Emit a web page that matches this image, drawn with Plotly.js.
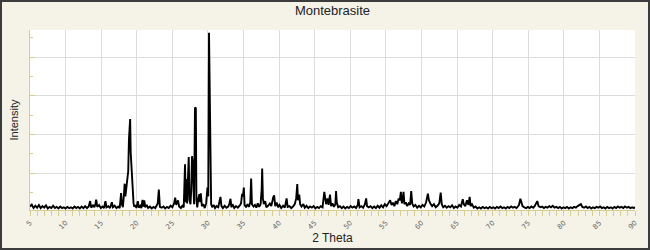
<!DOCTYPE html>
<html>
<head>
<meta charset="utf-8">
<script src="https://cdn.plot.ly/plotly-3.0.1.min.js"></script>
<style>
  html, body { margin: 0; padding: 0; background: #f5f3e8; }
  #chart { width: 650px; height: 250px; }
</style>
</head>
<body>
<div id="chart"></div>
<script>
// 2-theta positions (degrees)
const twoTheta = [
  5.00, 5.25, 5.50, 5.75, 6.00, 6.25, 6.50, 6.75, 7.00, 7.25,
  7.50, 7.75, 8.00, 8.25, 8.50, 8.75, 9.00, 9.25, 9.50, 9.75,
  10.00, 10.25, 10.50, 10.75, 11.00, 11.25, 11.50, 11.75, 12.00, 12.25,
  12.50, 12.75, 13.00, 13.25, 13.45, 13.60, 13.85, 14.05, 14.20, 14.30,
  14.45, 14.70, 14.95, 15.20, 15.40, 15.60, 15.75, 16.00, 16.25, 16.50,
  16.65, 16.90, 17.15, 17.40, 17.60, 17.80, 17.90, 18.05, 18.20, 18.30,
  18.40, 18.50, 18.60, 18.70, 18.80, 18.90, 19.00, 19.07, 19.15, 19.25,
  19.35, 19.45, 19.55, 19.65, 19.80, 19.95, 20.15, 20.30, 20.50, 20.65,
  20.80, 20.95, 21.05, 21.20, 21.40, 21.60, 21.85, 22.10, 22.35, 22.60,
  22.80, 22.95, 23.10, 23.25, 23.50, 23.75, 24.00, 24.25, 24.50, 24.75,
  25.00, 25.25, 25.40, 25.55, 25.80, 25.95, 26.20, 26.40, 26.60, 26.78,
  26.88, 26.97, 27.07, 27.15, 27.30, 27.40, 27.55, 27.65, 27.76, 27.85,
  27.95, 28.05, 28.18, 28.30, 28.38, 28.50, 28.65, 28.80, 28.90, 29.00,
  29.15, 29.35, 29.55, 29.75, 29.93, 30.05, 30.15, 30.25, 30.35, 30.45,
  30.60, 30.80, 31.00, 31.20, 31.45, 31.60, 31.76, 31.90, 32.10, 32.35,
  32.60, 32.85, 33.00, 33.17, 33.30, 33.45, 33.70, 33.95, 34.20, 34.45,
  34.65, 34.80, 34.92, 35.04, 35.15, 35.35, 35.55, 35.75, 35.95, 36.07,
  36.18, 36.40, 36.60, 36.80, 37.00, 37.20, 37.40, 37.55, 37.62, 37.72,
  37.85, 38.05, 38.20, 38.45, 38.70, 38.90, 39.05, 39.17, 39.30, 39.45,
  39.65, 39.85, 40.05, 40.30, 40.55, 40.80, 41.05, 41.20, 41.45, 41.70,
  41.95, 42.20, 42.40, 42.55, 42.65, 42.83, 42.95, 43.15, 43.40, 43.60,
  43.85, 44.10, 44.35, 44.60, 44.85, 45.10, 45.35, 45.60, 45.85, 46.10,
  46.35, 46.45, 46.60, 46.80, 46.95, 47.15, 47.30, 47.50, 47.70, 47.90,
  48.00, 48.10, 48.30, 48.55, 48.80, 49.05, 49.30, 49.55, 49.80, 50.05,
  50.30, 50.55, 50.80, 51.05, 51.14, 51.30, 51.55, 51.80, 52.05, 52.23,
  52.35, 52.60, 52.85, 53.10, 53.35, 53.60, 53.85, 54.10, 54.35, 54.60,
  54.85, 55.10, 55.35, 55.60, 55.80, 56.00, 56.20, 56.40, 56.60, 56.80,
  56.95, 57.11, 57.25, 57.40, 57.48, 57.60, 57.80, 58.00, 58.20, 58.40,
  58.56, 58.70, 58.90, 59.15, 59.40, 59.65, 59.90, 60.15, 60.40, 60.65,
  60.90, 61.05, 61.25, 61.50, 61.75, 62.00, 62.25, 62.50, 62.70, 62.85,
  63.05, 63.30, 63.55, 63.80, 64.05, 64.30, 64.55, 64.80, 65.05, 65.30,
  65.55, 65.80, 65.95, 66.15, 66.40, 66.60, 66.77, 66.90, 67.10, 67.35,
  67.60, 67.85, 68.10, 68.35, 68.60, 68.85, 69.10, 69.35, 69.60, 69.85,
  70.10, 70.35, 70.60, 70.85, 71.10, 71.35, 71.60, 71.85, 72.10, 72.35,
  72.60, 72.85, 73.10, 73.35, 73.55, 73.70, 73.90, 74.05, 74.20, 74.45,
  74.70, 74.95, 75.20, 75.45, 75.70, 75.90, 76.10, 76.27, 76.45, 76.70,
  76.95, 77.20, 77.45, 77.70, 77.95, 78.20, 78.45, 78.70, 78.95, 79.20,
  79.45, 79.70, 79.95, 80.20, 80.45, 80.70, 80.95, 81.20, 81.45, 81.70,
  81.95, 82.20, 82.40, 82.60, 82.85, 83.10, 83.35, 83.60, 83.85, 84.10,
  84.35, 84.60, 84.85, 85.10, 85.35, 85.60, 85.85, 86.10, 86.35, 86.60,
  86.85, 87.10, 87.35, 87.60, 87.85, 88.10, 88.35, 88.60, 88.85, 89.10,
  89.35, 89.60, 89.85, 90.00
];

// intensity (arbitrary units)
const intensity = [
  0.14, 0.19, 0.10, 0.16, 0.11, 0.18, 0.10, 0.15, 0.11, 0.17,
  0.09, 0.13, 0.10, 0.16, 0.10, 0.13, 0.09, 0.14, 0.10, 0.12,
  0.09, 0.13, 0.10, 0.12, 0.09, 0.14, 0.10, 0.13, 0.09, 0.14,
  0.10, 0.15, 0.10, 0.14, 0.28, 0.11, 0.17, 0.12, 0.22, 0.32,
  0.13, 0.18, 0.10, 0.14, 0.10, 0.28, 0.12, 0.15, 0.10, 0.25,
  0.12, 0.16, 0.10, 0.14, 0.10, 0.49, 0.20, 0.12, 0.45, 0.73,
  0.40, 0.62, 0.73, 1.03, 1.05, 1.87, 2.10, 2.40, 1.53, 1.12,
  0.72, 0.30, 0.22, 0.13, 0.18, 0.10, 0.28, 0.11, 0.16, 0.10,
  0.31, 0.14, 0.30, 0.12, 0.18, 0.10, 0.14, 0.09, 0.13, 0.10,
  0.17, 0.22, 0.58, 0.13, 0.11, 0.14, 0.09, 0.13, 0.10, 0.16,
  0.12, 0.22, 0.37, 0.18, 0.30, 0.14, 0.10, 0.16, 0.12, 1.23,
  0.25, 0.85, 0.22, 0.90, 1.42, 0.30, 0.20, 0.55, 1.44, 1.31,
  0.35, 0.20, 2.70, 2.68, 0.30, 0.12, 0.35, 0.46, 0.25, 0.48,
  0.15, 0.20, 0.10, 0.22, 0.63, 0.40, 4.63, 2.73, 0.45, 0.20,
  0.12, 0.18, 0.10, 0.15, 0.12, 0.22, 0.39, 0.15, 0.10, 0.16,
  0.11, 0.14, 0.20, 0.34, 0.12, 0.20, 0.10, 0.15, 0.11, 0.16,
  0.22, 0.47, 0.40, 0.63, 0.18, 0.12, 0.20, 0.13, 0.25, 0.86,
  0.20, 0.14, 0.18, 0.11, 0.22, 0.13, 0.20, 0.60, 1.12, 0.35,
  0.20, 0.28, 0.12, 0.16, 0.22, 0.15, 0.30, 0.38, 0.43, 0.15,
  0.24, 0.12, 0.18, 0.10, 0.16, 0.11, 0.35, 0.13, 0.15, 0.10,
  0.14, 0.20, 0.35, 0.72, 0.30, 0.45, 0.20, 0.14, 0.20, 0.11,
  0.16, 0.10, 0.14, 0.11, 0.15, 0.09, 0.13, 0.10, 0.15, 0.12,
  0.52, 0.40, 0.20, 0.35, 0.18, 0.45, 0.15, 0.22, 0.13, 0.20,
  0.54, 0.25, 0.12, 0.15, 0.10, 0.14, 0.09, 0.13, 0.10, 0.15,
  0.11, 0.14, 0.10, 0.18, 0.33, 0.12, 0.15, 0.11, 0.20, 0.35,
  0.15, 0.12, 0.15, 0.10, 0.14, 0.10, 0.16, 0.11, 0.17, 0.12,
  0.20, 0.15, 0.22, 0.30, 0.18, 0.24, 0.15, 0.28, 0.20, 0.35,
  0.30, 0.52, 0.22, 0.35, 0.52, 0.20, 0.25, 0.15, 0.22, 0.18,
  0.54, 0.22, 0.14, 0.18, 0.11, 0.16, 0.12, 0.18, 0.14, 0.25,
  0.47, 0.30, 0.22, 0.15, 0.20, 0.12, 0.16, 0.22, 0.50, 0.20,
  0.12, 0.16, 0.11, 0.15, 0.12, 0.17, 0.10, 0.14, 0.11, 0.18,
  0.14, 0.33, 0.20, 0.15, 0.30, 0.18, 0.39, 0.15, 0.20, 0.11,
  0.14, 0.09, 0.12, 0.09, 0.13, 0.10, 0.12, 0.09, 0.13, 0.10,
  0.12, 0.09, 0.13, 0.10, 0.14, 0.10, 0.12, 0.09, 0.13, 0.10,
  0.14, 0.11, 0.13, 0.10, 0.14, 0.18, 0.34, 0.25, 0.15, 0.12,
  0.10, 0.13, 0.10, 0.14, 0.11, 0.15, 0.22, 0.28, 0.15, 0.12,
  0.14, 0.10, 0.13, 0.11, 0.15, 0.12, 0.16, 0.11, 0.13, 0.10,
  0.13, 0.09, 0.12, 0.10, 0.13, 0.09, 0.12, 0.10, 0.13, 0.11,
  0.15, 0.17, 0.20, 0.13, 0.11, 0.14, 0.10, 0.13, 0.09, 0.12,
  0.10, 0.13, 0.11, 0.14, 0.10, 0.12, 0.09, 0.13, 0.10, 0.12,
  0.09, 0.13, 0.10, 0.14, 0.11, 0.13, 0.10, 0.14, 0.11, 0.13,
  0.10, 0.12, 0.10, 0.13
];

const chartTitle = 'Montebrasite';
const xTitle = '2 Theta';
const yTitle = 'Intensity';
const xTickVals = [5, 10, 15, 20, 25, 30, 35, 40, 45, 50, 55, 60, 65, 70, 75, 80, 85, 90];

const W = 650, H = 250;
const M = { l: 30, r: 15, t: 30, b: 40 };
const pw = W - M.l - M.r, ph = H - M.t - M.b;
const tan = '#d8ce93';
const grid = '#dcdcdc';
const FONT = 'Liberation Sans, Arial, sans-serif';

const trace = {
  x: twoTheta,
  y: intensity,
  type: 'scatter',
  mode: 'lines',
  line: { color: '#000000', width: 1.9 },
  hoverinfo: 'skip'
};

const layout = {
  width: W,
  height: H,
  margin: M,
  paper_bgcolor: '#f5f3e8',
  plot_bgcolor: '#ffffff',
  showlegend: false,
  font: { family: FONT, color: '#222' },
  title: {
    text: chartTitle,
    x: 0.5, xref: 'paper', xanchor: 'center',
    y: 1 - 10 / H, yref: 'container', yanchor: 'middle',
    font: { size: 13, color: '#222', family: FONT }
  },
  xaxis: {
    range: [5, 90],
    tickmode: 'array',
    tickvals: xTickVals,
    ticktext: xTickVals.map(String),
    tickangle: -45,
    tickfont: { size: 7, color: '#666', family: 'DejaVu Sans, sans-serif' },
    ticks: 'outside', ticklen: 5, tickcolor: tan, tickwidth: 1,
    showline: true, linecolor: tan, linewidth: 1,
    showgrid: true, gridcolor: grid, gridwidth: 1,
    zeroline: false,
    minor: { dtick: 1, ticks: 'outside', ticklen: 5, tickcolor: tan, showgrid: false },
    title: { text: xTitle, standoff: 0, font: { size: 12, color: '#222', family: FONT } },
    fixedrange: true
  },
  yaxis: {
    range: [0.05, 4.7],
    dtick: 1, tick0: 0,
    showticklabels: false,
    ticks: 'inside', ticklen: 5, tickcolor: tan, tickwidth: 1,
    showline: true, linecolor: tan, linewidth: 1,
    showgrid: true, gridcolor: grid, gridwidth: 1,
    zeroline: false,
    minor: { dtick: 0.5, ticks: 'inside', ticklen: 3, tickcolor: tan, showgrid: false },
    title: { text: yTitle, standoff: 8, font: { size: 11, color: '#222', family: FONT } },
    fixedrange: true
  },
  shapes: [{
    type: 'rect', xref: 'paper', yref: 'paper', layer: 'above',
    x0: (-M.l + 1) / pw, x1: 1 + (M.r - 1) / pw,
    y0: (-M.b + 1) / ph, y1: 1 + (M.t - 1) / ph,
    line: { color: '#3c3c3c', width: 2 },
    fillcolor: 'rgba(0,0,0,0)'
  }]
};

Plotly.newPlot('chart', [trace], layout, { displayModeBar: false, staticPlot: true });
</script>
</body>
</html>
